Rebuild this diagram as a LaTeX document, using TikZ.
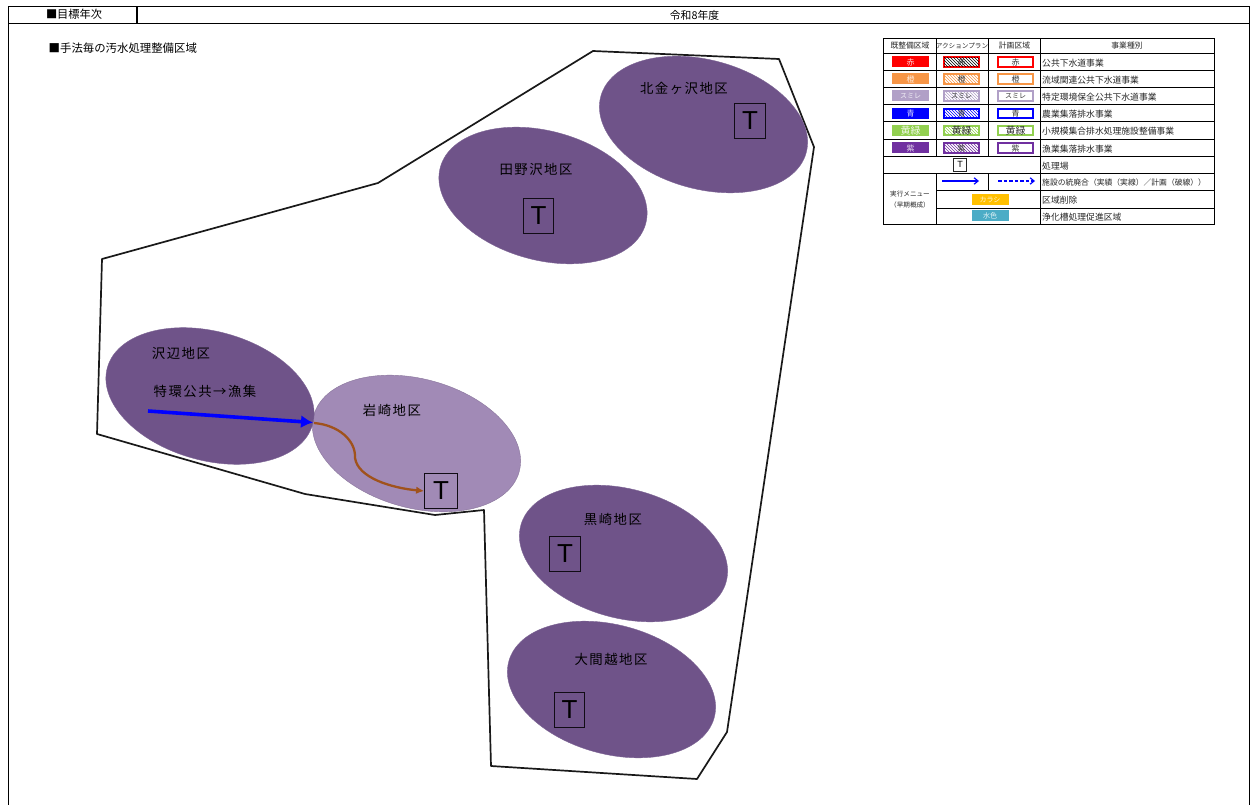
\documentclass[tikz,border=0pt]{standalone}
\usepackage{fontspec}
\setmainfont{Noto Sans CJK JP}
\newfontfamily\latinfont{Liberation Sans}
\newfontfamily\spaced[LetterSpace=11]{Noto Sans CJK JP}
\usetikzlibrary{shapes.geometric,patterns,arrows.meta}
\definecolor{dist}{HTML}{6F5389}
\definecolor{distlight}{HTML}{A18AB6}
\definecolor{edgedark}{HTML}{7C6494}
\definecolor{lred}{HTML}{FF0000}
\definecolor{lorange}{HTML}{F79646}
\definecolor{lsumire}{HTML}{B1A0C7}
\definecolor{lblue}{HTML}{0000FF}
\definecolor{lgreen}{HTML}{92D050}
\definecolor{lpurple}{HTML}{7030A0}
\definecolor{lyellow}{HTML}{FFC000}
\definecolor{lcyan}{HTML}{4BACC6}
\definecolor{pipe}{HTML}{A0521C}
\tikzset{
  district/.style={ellipse,draw=edgedark,line width=.4pt,fill=dist,inner sep=0pt,rotate=-15.4,minimum width=213pt,minimum height=129pt},
  lbl/.style={inner sep=0pt,font=\spaced\fontsize{13.4}{14}\selectfont,text=black},
  tbox/.style={draw=black!85!dist,line width=.7pt,inner sep=0pt,minimum width=30.5pt,minimum height=35pt,font=\latinfont\fontsize{26}{26}\selectfont},
  rule/.style={line width=1pt,draw=black},
  cell/.style={inner sep=0pt,font=\fontsize{8.8}{9}\selectfont,anchor=west,text=black!85},
  head/.style={inner sep=0pt,font=\fontsize{7.8}{9}\selectfont,text=black!85},
  swatch/.style={inner sep=0pt,minimum width=37pt,minimum height=11pt,font=\fontsize{8}{9}\selectfont}
}
\begin{document}
\begin{tikzpicture}[x=1pt,y=-1pt]
\useasboundingbox (0,0) rectangle (1250,805);
% page frame
\draw[rule] (8.5,805) -- (8.5,6.8) -- (1249,6.8) -- (1249,805);
\draw[rule] (8.5,23.5) -- (1249,23.5);
\draw[rule,line width=1.4pt] (137,6.8) -- (137,23.5);
\node[inner sep=0pt,font=\fontsize{11.2}{12}\selectfont] (hd1) at (74,14.5) {■目標年次};
\node[inner sep=0pt,font=\fontsize{10.8}{12}\selectfont] (hd2) at (694.5,15) {令和8年度};
\node[inner sep=0pt,font=\fontsize{11.4}{12}\selectfont,anchor=west] (title) at (48.5,48) {■手法毎の汚水処理整備区域};
% outline
\draw[line width=1.7pt,black!90,line join=round] (593,51) -- (779,59) -- (814,147) -- (727,732) -- (697,779) -- (491,766) -- (484,510) -- (435,515) -- (305,494) -- (97,434) -- (102,259) -- (378,183) -- cycle;
% districts
\node[district,fill=distlight,draw=distlight!85!black] (iwa) at (416.5,443.5) {};
\node[district] (kita) at (703.5,124.5) {};
\node[district] (tano) at (543,195.5) {};
\node[district] (sawa) at (210,396) {};
\node[district] (kuro) at (623.5,553.5) {};
\node[district] (oma) at (611.5,689.5) {};
% labels
\node[lbl] (lkita) at (684,88.5) {北金ヶ沢地区};
\node[lbl] (ltano) at (536,169.5) {田野沢地区};
\node[lbl] (lsawa) at (181,353.5) {沢辺地区};
\node[lbl] (lsaw2) at (205,391.5) {特環公共→漁集};
\node[lbl] (liwa) at (392,410.5) {岩崎地区};
\node[lbl] (lkuro) at (613,519.5) {黒崎地区};
\node[lbl] (loma) at (611,659.5) {大間越地区};
% treatment plants
\node[tbox] (t1) at (750,121) {T};
\node[tbox] (t2) at (538.5,216) {T};
\node[tbox,minimum width=33pt] (t3) at (441,491) {T};
\node[tbox] (t4) at (565,553.5) {T};
\node[tbox] (t5) at (569.5,709.5) {T};
% connectors
\coordinate (bs) at (148,411);
\coordinate (be) at (313,422.5);
\draw[lblue,line width=3.6pt,-{Latex[length=12pt,width=13pt]}] (bs) -- (be);
\coordinate (cs) at (314,423);
\draw[pipe,line width=2.3pt,-{Latex[length=8pt,width=7.5pt]}] (cs) .. controls (338,425) and (356,440) .. (355,458) .. controls (358,478) and (392,488) .. (t3.west);
% legend grid
\draw[rule] (883.5,38.5) rectangle (1214,225);
\foreach \yy in {53.5,70.7,87.7,105,122,139.3,156.7,174}
  \draw[rule] (883.5,\yy) -- (1214,\yy);
\foreach \yy in {191,208.3}
  \draw[rule] (936,\yy) -- (1214,\yy);
\draw[rule] (936,38.5) -- (936,156.7);
\draw[rule] (988.3,38.5) -- (988.3,156.7);
\draw[rule] (936,174) -- (936,225);
\draw[rule] (988.3,174) -- (988.3,191);
\draw[rule] (1040.7,38.5) -- (1040.7,225);
\node[head] (h1) at (910,46) {既整備区域};
\node[head,font=\fontsize{6.6}{9}\selectfont] (h2) at (962,46) {アクションプラン};
\node[head] (h3) at (1014.5,46) {計画区域};
\node[head] (h4) at (1127,46) {事業種別};
% legend rows
\foreach \yc/\col/\hat/\txt/\sz/\desc in {
  62/lred/black/赤/8/公共下水道事業,
  79/lorange/lorange/橙/8/流域関連公共下水道事業,
  96/lsumire/lsumire/スミレ/7/特定環境保全公共下水道事業,
  113.5/lblue/lblue/青/8/農業集落排水事業,
  130.5/lgreen/lgreen/黄緑/10/小規模集合排水処理施設整備事業,
  148/lpurple/lpurple/紫/8/漁業集落排水事業}{
  \node[swatch,fill=\col,text=white!85!\col,font=\fontsize{\sz}{9}\selectfont] at (910.5,\yc) {\txt};
  \path[draw=\col,line width=1.8pt] (944,\yc-4.7) rectangle (979,\yc+4.7);
  \fill[pattern=north west lines,pattern color=\hat] (944,\yc-4.7) rectangle (979,\yc+4.7);
  \node[inner sep=0pt,font=\fontsize{\sz}{9}\selectfont,text=black!80] at (961.5,\yc) {\txt};
  \node[draw=\col,line width=1.8pt,inner sep=0pt,minimum width=35pt,minimum height=9.5pt,font=\fontsize{\sz}{9}\selectfont,text=black!80] at (1015.5,\yc) {\txt};
  \node[cell] at (1042,\yc+1) {\desc};
}
\node[draw=black!85,line width=.9pt,inner sep=0pt,minimum width=13pt,minimum height=13pt,font=\latinfont\fontsize{9}{9}\selectfont] (lt) at (960,164.5) {T};
\node[cell] (d7) at (1042,166) {処理場};
\node[inner sep=0pt,align=center,font=\fontsize{6.6}{10.5}\selectfont,text=black!85] (menu) at (910,199.5) {実行メニュー\\（早期概成）};
\coordinate (a1s) at (942,181);
\coordinate (a1e) at (979,181);
\coordinate (a2s) at (998,181);
\coordinate (a2e) at (1035,181);
\draw[lblue,line width=1.2pt,-{Straight Barb[length=4pt,width=6.5pt]}] (a1s) -- (a1e);
\draw[lblue,line width=1.2pt,dash pattern=on 3.5pt off 2pt,-{Straight Barb[length=4pt,width=6.5pt]}] (a2s) -- (a2e);
\node[cell,font=\fontsize{7.8}{9}\selectfont] (d8) at (1042,183) {施設の統廃合（実績（実線）／計画（破線））};
\node[swatch,fill=lyellow,text=white!85!lyellow,font=\fontsize{7}{9}\selectfont] (kar) at (990,199.5) {カラシ};
\node[cell] (d9) at (1042,200) {区域削除};
\node[swatch,fill=lcyan,text=white!85!lcyan,font=\fontsize{7}{9}\selectfont] (miz) at (990,216) {水色};
\node[cell] (d10) at (1042,217) {浄化槽処理促進区域};
\end{tikzpicture}
\end{document}
